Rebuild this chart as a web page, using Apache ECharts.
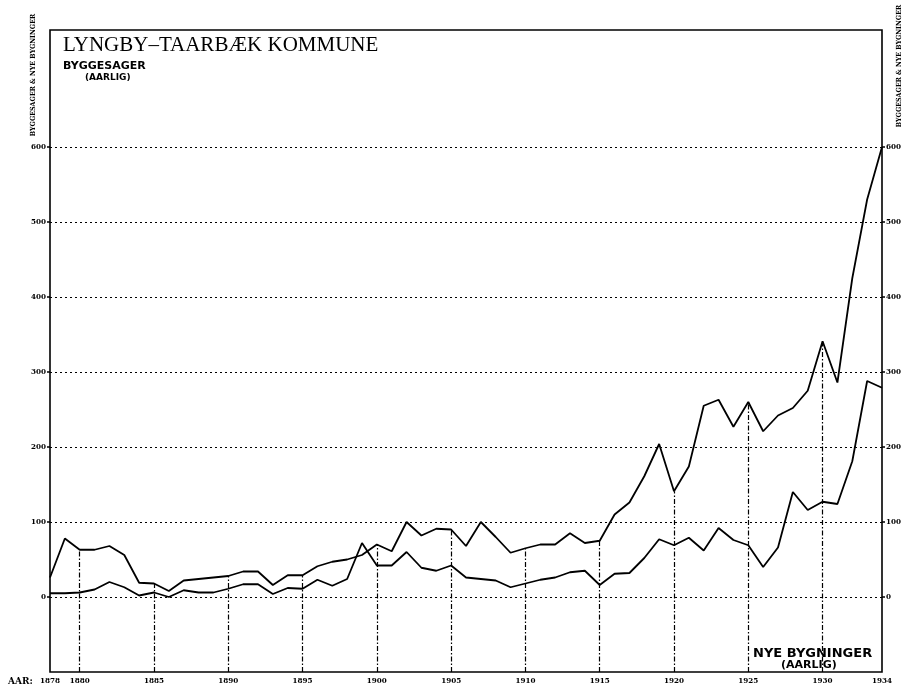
<!DOCTYPE html>
<html>
<head>
<meta charset="utf-8">
<script src="https://cdn.jsdelivr.net/npm/echarts@6/dist/echarts.min.js"></script>
<style>
  html, body { margin: 0; padding: 0; background: #fff; }
  #chart { width: 906px; height: 690px; }
</style>
</head>
<body>
<div id="chart"></div>
<script>
// aar 1878 - 1934
const years = []
for (let y = 1878; y <= 1934; y++) years.push(String(y))

// byggesager (aarlig) - oeverste kurve
const byggesager = [
  26, 78, 63, 63, 68, 56, 19, 18, 8, 22,
  24, 26, 28, 34, 34, 16, 29, 29, 41, 47,
  50, 56, 70, 61, 100, 82, 91, 90, 68, 100,
  80, 59, 65, 70, 70, 85, 72, 75, 110, 126,
  161, 204, 141, 174, 255, 263, 227, 260, 221, 242,
  252, 275, 341, 286, 425, 530, 600
]

// nye bygninger (aarlig) - nederste kurve
const nyeBygninger = [
  5, 5, 6, 10, 20, 13, 2, 6, 0, 9,
  6, 6, 11, 17, 17, 4, 12, 11, 23, 15,
  24, 72, 42, 42, 60, 39, 35, 42, 26, 24,
  22, 13, 18, 23, 26, 33, 35, 16, 31, 32,
  52, 77, 69, 79, 62, 92, 76, 69, 40, 66,
  140, 116, 127, 124, 181, 288, 279
]

const xTickYears = ['1878', '1880', '1885', '1890', '1895', '1900', '1905', '1910', '1915', '1920', '1925', '1930', '1934']
const dropYears = ['1880', '1885', '1890', '1895', '1900', '1905', '1910', '1915', '1920', '1925', '1930']
const yTicks = [0, 100, 200, 300, 400, 500, 600]

const tickFont = 'DejaVu Serif Condensed, DejaVu Serif, serif'
const sideLabel = 'BYGGESAGER & NYE BYGNINGER'

// lodrette streger fra bunden op til byggesager-kurven
let dropLines = dropYears.map(y => {
  let i = years.indexOf(y)
  return [{ coord: [i, -100] }, { coord: [i, byggesager[i]] }]
})
let gridLines = yTicks.map(v => ({ yAxis: v }))

function yAxisCfg(pos) {
  return {
    type: 'value',
    position: pos,
    min: -100,
    max: 756,
    interval: 100,
    axisLine: { show: false },
    axisTick: { show: true, length: 3, customValues: yTicks, lineStyle: { color: '#000', width: 1.5 } },
    splitLine: { show: false },
    axisLabel: {
      color: '#000',
      fontFamily: tickFont,
      fontWeight: 'bold',
      fontSize: 8,
      margin: 4,
      customValues: yTicks,
      formatter: v => (yTicks.indexOf(v) >= 0 ? String(v) : '')
    }
  }
}

let chart = echarts.init(document.getElementById('chart'))
chart.setOption({
  animation: false,
  backgroundColor: '#fff',
  grid: {
    left: 50,
    right: 24,
    top: 30,
    bottom: 18,
    show: true,
    borderColor: '#000',
    borderWidth: 1.6,
    backgroundColor: 'transparent'
  },
  xAxis: {
    type: 'category',
    data: years,
    boundaryGap: false,
    axisLine: { show: false },
    axisTick: { show: false },
    splitLine: { show: false },
    axisLabel: {
      color: '#000',
      fontFamily: tickFont,
      fontWeight: 'bold',
      fontSize: 8,
      margin: 5,
      showMinLabel: true,
      showMaxLabel: true,
      interval: (idx, val) => xTickYears.indexOf(val) >= 0
    }
  },
  yAxis: [yAxisCfg('left'), yAxisCfg('right')],
  graphic: [
    {
      type: 'text', left: 63, top: 35,
      style: { text: 'LYNGBY–TAARBÆK KOMMUNE', fill: '#000', font: '21px "Liberation Serif", serif' }
    },
    {
      type: 'text', left: 63, top: 61,
      style: { text: 'BYGGESAGER', fill: '#000', font: 'bold 11px "DejaVu Sans", sans-serif' }
    },
    {
      type: 'text', left: 85, top: 73,
      style: { text: '(AARLIG)', fill: '#000', font: 'bold 9px "DejaVu Sans", sans-serif' }
    },
    {
      type: 'text', left: 753, top: 647,
      style: { text: 'NYE BYGNINGER', fill: '#000', font: 'bold 13px "DejaVu Sans", sans-serif' }
    },
    {
      type: 'text', left: 781, top: 660,
      style: { text: '(AARLIG)', fill: '#000', font: 'bold 11px "DejaVu Sans", sans-serif' }
    },
    {
      type: 'text', left: 8, top: 676,
      style: { text: 'AAR:', fill: '#000', font: 'bold 10px ' + tickFont }
    },
    {
      type: 'text', x: 33, y: 75, rotation: Math.PI / 2,
      style: {
        text: sideLabel, fill: '#000', font: 'bold 7px ' + tickFont,
        textAlign: 'center', textVerticalAlign: 'middle', align: 'center', verticalAlign: 'middle'
      }
    },
    {
      type: 'text', x: 899, y: 66, rotation: Math.PI / 2,
      style: {
        text: sideLabel, fill: '#000', font: 'bold 7px ' + tickFont,
        textAlign: 'center', textVerticalAlign: 'middle', align: 'center', verticalAlign: 'middle'
      }
    }
  ],
  series: [
    {
      name: 'Byggesager',
      type: 'line',
      data: byggesager,
      symbol: 'none',
      lineStyle: { color: '#000', width: 1.8 },
      z: 5,
      markLine: {
        silent: true,
        symbol: 'none',
        label: { show: false },
        lineStyle: { color: '#000', width: 1.2, type: [5, 2, 1.5, 2] },
        data: dropLines
      }
    },
    {
      name: 'Nye bygninger',
      type: 'line',
      data: nyeBygninger,
      symbol: 'none',
      lineStyle: { color: '#000', width: 1.8 },
      z: 5,
      markLine: {
        silent: true,
        symbol: 'none',
        label: { show: false },
        lineStyle: { color: '#000', width: 1.2, type: [2, 3] },
        data: gridLines
      }
    }
  ]
})
window.onresize = () => {
  chart.resize()
}
</script>
</body>
</html>
